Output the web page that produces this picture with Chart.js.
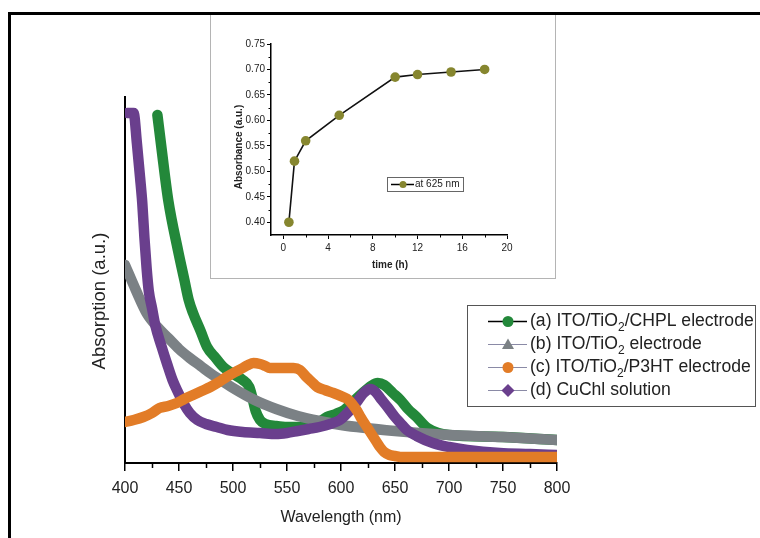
<!DOCTYPE html>
<html><head><meta charset="utf-8">
<script src="https://cdn.jsdelivr.net/npm/chart.js@4.4.1/dist/chart.umd.min.js"></script>
<style>
html,body{margin:0;padding:0;background:#fff;width:760px;height:538px;overflow:hidden;}
#main{position:absolute;left:0;top:0;}
#frame{position:absolute;left:8px;top:12px;width:900px;height:700px;border:3px solid #000;box-sizing:border-box;pointer-events:none;}
#insetBox{position:absolute;left:210px;top:13px;width:346px;height:266px;box-sizing:border-box;border:1px solid #b4b4b4;background:#fff;}
#inset{position:absolute;left:0;top:0;}
</style></head><body>
<canvas id="main" width="760" height="538"></canvas>
<div id="insetBox"><canvas id="inset" width="344" height="264"></canvas></div>
<div id="frame"></div>
<script>
// ---------- data (main) ----------
const wavelengthTicks = [400,450,500,550,600,650,700,750,800];
const wavelengthMinor = [425,475,525,575,625,675,725,775];

const nmA  = [430,434,440,449,455,459,463,470,476,484,491,500,509,515,518,521,525,530,540,550,560,570,580,587,595,603,610,620,628,634,640,648,655,662,670,680,690,700,750,800];
const absA = [3.48,3.13,2.63,2.13,1.83,1.63,1.50,1.32,1.16,1.05,0.96,0.89,0.83,0.76,0.65,0.52,0.43,0.39,0.37,0.36,0.36,0.37,0.41,0.46,0.49,0.53,0.60,0.70,0.77,0.80,0.78,0.70,0.63,0.54,0.46,0.35,0.30,0.28,0.26,0.23];

const nmB  = [400,410,420,430,440,450,460,470,480,490,500,520,540,560,580,600,650,700,750,800];
const absB = [1.98,1.73,1.50,1.36,1.25,1.14,1.05,0.97,0.89,0.82,0.75,0.63,0.54,0.47,0.42,0.38,0.32,0.28,0.26,0.23];

const nmC  = [400,408,417,425,432,440,448,455,463,471,479,487,494,502,509,514,519,525,530,534,540,546,552,556,562,568,573,578,585,593,602,607,611,615,618,621,624,627,630,633,636,640,645,650,655,680,720,760,800];
const absC = [0.41,0.43,0.46,0.50,0.55,0.57,0.60,0.64,0.68,0.72,0.76,0.81,0.86,0.91,0.95,0.98,1.00,0.99,0.97,0.95,0.95,0.95,0.95,0.95,0.93,0.86,0.81,0.76,0.73,0.70,0.66,0.63,0.58,0.52,0.46,0.41,0.36,0.31,0.26,0.21,0.16,0.11,0.08,0.07,0.06,0.06,0.06,0.06,0.06];

const nmD  = [402,405,408,411,414,416,418,420,422,425,428,434,439,444,449,454,460,467,475,485,495,509,525,540,550,560,570,580,590,599,605,611,616,621,627,632,637,643,650,655,661,670,685,700,717,747,775,800];
const absD = [3.5,3.5,3.5,3.2,2.85,2.6,2.25,1.95,1.72,1.55,1.38,1.16,0.99,0.83,0.71,0.60,0.50,0.43,0.39,0.36,0.33,0.31,0.30,0.29,0.30,0.32,0.34,0.36,0.39,0.43,0.49,0.56,0.63,0.70,0.74,0.71,0.64,0.56,0.46,0.40,0.33,0.27,0.20,0.16,0.13,0.10,0.09,0.08];

const seriesLabels = [
  ['(a) ITO/TiO','2','/CHPL electrode'],
  ['(b) ITO/TiO','2',' electrode'],
  ['(c) ITO/TiO','2','/P3HT electrode'],
  ['(d) CuChl solution','','']
];
const seriesColors = ['#23883a','#7b8185','#e27c27','#6a3f8d'];

// ---------- data (inset) ----------
const insetTime = [0.5,1,2,5,10,12,15,18];
const insetAbs  = [0.40,0.52,0.56,0.61,0.685,0.69,0.695,0.70];
const insetXTicks = [0,4,8,12,16,20];
const insetXMinor = [2,6,10,14,18];
const insetYTicks = [0.40,0.45,0.50,0.55,0.60,0.65,0.70,0.75];
const insetYMinor = [0.425,0.475,0.525,0.575,0.625,0.675,0.725];

const FONT = '"Liberation Sans", Arial, Helvetica, sans-serif';
const pts = (xs, ys) => xs.map((x,i)=>({x, y: ys[i]}));

function drawMinor(chart, axisId, values, len, width, inward){
  const s = chart.scales[axisId], c = chart.ctx, a = chart.chartArea;
  c.save(); c.strokeStyle='#000'; c.lineWidth=width; c.beginPath();
  values.forEach(v=>{
    const p = s.getPixelForValue(v);
    if (s.isHorizontal()){
      const y0 = a.bottom; c.moveTo(Math.round(p)+0.5, y0); c.lineTo(Math.round(p)+0.5, inward? y0-len : y0+len);
    } else {
      const x0 = a.left; c.moveTo(x0, Math.round(p)+0.5); c.lineTo(inward? x0+len : x0-len, Math.round(p)+0.5);
    }
  });
  c.stroke(); c.restore();
}

function drawMarker(c, type, x, y, color){
  c.fillStyle = color;
  c.beginPath();
  if (type==='circle'){ c.arc(x,y,5.5,0,Math.PI*2); }
  else if (type==='triangle'){ c.moveTo(x,y-6); c.lineTo(x+6,y+4.5); c.lineTo(x-6,y+4.5); c.closePath(); }
  else if (type==='diamond'){ c.moveTo(x,y-6.5); c.lineTo(x+6.5,y); c.lineTo(x,y+6.5); c.lineTo(x-6.5,y); c.closePath(); }
  c.fill();
}

const mainDeco = {
  id:'mainDeco',
  afterDraw(chart){
    const c = chart.ctx, a = chart.chartArea;
    drawMinor(chart,'x',wavelengthMinor,5,1.5,false);
    c.save();
    c.fillStyle='#222';
    c.font = '16px ' + FONT;
    c.textAlign='center'; c.textBaseline='middle';
    c.fillText('Wavelength (nm)', (a.left+a.right)/2, 518);
    c.font = '18.5px ' + FONT;
    c.save(); c.translate(100,301); c.rotate(-Math.PI/2); c.fillText('Absorption (a.u.)',0,0); c.restore();
    // legend
    c.fillStyle='#fff'; c.fillRect(467,305,289,102);
    c.strokeStyle='#555'; c.lineWidth=1; c.strokeRect(467.5,305.5,288,101);
    const types=['circle','triangle','circle','diamond'];
    seriesLabels.forEach((lab,i)=>{
      const y = 321 + 23*i;
      c.strokeStyle = i===0 ? '#000' : '#8a8aa6'; c.lineWidth = i===0 ? 1.5 : 1;
      c.beginPath(); c.moveTo(488,y+0.5); c.lineTo(527,y+0.5); c.stroke();
      drawMarker(c, types[i], 508, y+0.5, seriesColors[i]);
      c.fillStyle='#222'; c.textAlign='left'; c.textBaseline='middle';
      c.font = '17.6px ' + FONT;
      let x = 530;
      c.fillText(lab[0], x, y); x += c.measureText(lab[0]).width;
      if (lab[1]){
        c.font = '12px ' + FONT; c.fillText(lab[1], x, y+7); x += c.measureText(lab[1]).width;
        c.font = '17.6px ' + FONT; c.fillText(lab[2], x, y);
      }
    });
    c.restore();
  }
};

const lineDs = (label, xs, ys, color, order) => ({
  label, data: pts(xs,ys), borderColor: color, backgroundColor: color,
  borderWidth: 10.5, pointRadius: 0, cubicInterpolationMode:'monotone',
  borderCapStyle:'round', borderJoinStyle:'round', order, fill:false
});

new Chart(document.getElementById('main'), {
  type:'line',
  data:{ datasets:[
    lineDs(seriesLabels[0].join(''), nmA, absA, seriesColors[0], 3),
    lineDs(seriesLabels[1].join(''), nmB, absB, seriesColors[1], 2),
    lineDs(seriesLabels[2].join(''), nmC, absC, seriesColors[2], 0),
    lineDs(seriesLabels[3].join(''), nmD, absD, seriesColors[3], 1)
  ]},
  options:{
    responsive:false, animation:false, devicePixelRatio:1,
    layout:{ padding:{ left:0, top:97, right:203, bottom:0 } },
    plugins:{ legend:{display:false}, tooltip:{enabled:false} },
    scales:{
      x:{ type:'linear', min:400, max:800,
        afterBuildTicks: s => { s.ticks = wavelengthTicks.map(v=>({value:v})); },
        afterFit: s => { s.height = 75; },
        grid:{ display:true, drawOnChartArea:false, drawTicks:true, tickLength:8, color:'#000', lineWidth:1.5 },
        border:{ display:true, color:'#000', width:2 },
        ticks:{ color:'#222', font:{family:FONT, size:16}, padding:8, maxRotation:0, autoSkip:false }
      },
      y:{ type:'linear', min:0, max:3.66,
        afterFit: s => { s.width = 125; },
        grid:{ display:false },
        border:{ display:true, color:'#000', width:2 },
        ticks:{ display:false }
      }
    }
  },
  plugins:[mainDeco]
});

// ---------- inset ----------
const insetDeco = {
  id:'insetDeco',
  afterDraw(chart){
    const c = chart.ctx;
    drawMinor(chart,'x',insetXMinor,2.5,1,false);
    drawMinor(chart,'y',insetYMinor,2.5,1,false);
    c.save();
    c.fillStyle='#222';
    c.font = 'bold 10px ' + FONT;
    c.textAlign='center'; c.textBaseline='middle';
    c.fillText('time (h)', 179, 251);
    c.save(); c.translate(28,133); c.rotate(-Math.PI/2); c.fillText('Absorbance (a.u.)',0,0); c.restore();
    // legend
    c.strokeStyle='#666'; c.lineWidth=1; c.strokeRect(176.5,163.5,76,14);
    c.strokeStyle='#000'; c.lineWidth=1.5;
    c.beginPath(); c.moveTo(180,170.5); c.lineTo(203,170.5); c.stroke();
    c.fillStyle='#86862f'; c.beginPath(); c.arc(192,170.5,3.5,0,Math.PI*2); c.fill();
    c.fillStyle='#222'; c.font='10px ' + FONT; c.textAlign='left';
    c.fillText('at 625 nm', 204, 170.5);
    c.restore();
  }
};

new Chart(document.getElementById('inset'), {
  type:'line',
  data:{ datasets:[{
    label:'at 625 nm', data: pts(insetTime, insetAbs),
    borderColor:'#111', borderWidth:1.6, pointRadius:4.8, pointBackgroundColor:'#86862f',
    pointBorderColor:'#86862f', pointBorderWidth:0, tension:0, fill:false
  }]},
  options:{
    responsive:false, animation:false, devicePixelRatio:1,
    layout:{ padding:{ left:0, top:30, right:48, bottom:0 } },
    plugins:{ legend:{display:false}, tooltip:{enabled:false} },
    scales:{
      x:{ type:'linear', min:-1.1, max:20,
        afterBuildTicks: s => { s.ticks = insetXTicks.map(v=>({value:v})); },
        afterFit: s => { s.height = 43; },
        grid:{ display:true, drawOnChartArea:false, drawTicks:true, tickLength:4, color:'#000', lineWidth:1 },
        border:{ display:true, color:'#000', width:1.5 },
        ticks:{ color:'#222', font:{family:FONT, size:10}, padding:3, maxRotation:0, autoSkip:false }
      },
      y:{ type:'linear', min:0.375, max:0.75,
        afterBuildTicks: s => { s.ticks = insetYTicks.map(v=>({value:v})); },
        afterFit: s => { s.width = 60; },
        grid:{ display:true, drawOnChartArea:false, drawTicks:true, tickLength:4, color:'#000', lineWidth:1 },
        border:{ display:true, color:'#000', width:1.5 },
        ticks:{ color:'#222', font:{family:FONT, size:10}, padding:2, autoSkip:false,
          callback: v => v.toFixed(2) }
      }
    }
  },
  plugins:[insetDeco]
});
</script>
</body></html>
